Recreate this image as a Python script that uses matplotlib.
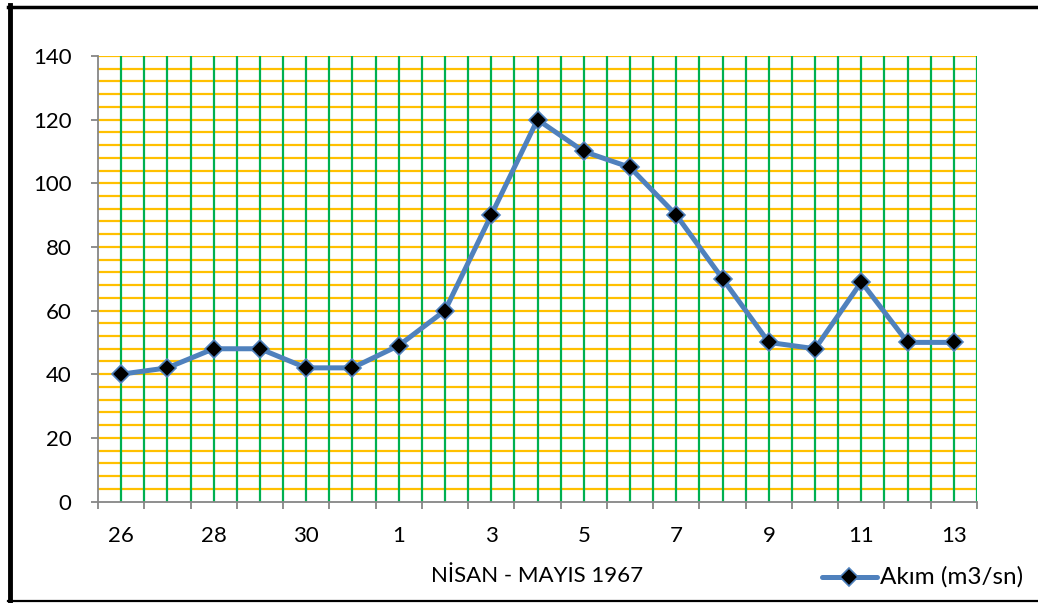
import matplotlib
matplotlib.use("Agg")
import matplotlib.pyplot as plt
from matplotlib.lines import Line2D
import numpy as np

categories = ['26', '27', '28', '29', '30', '31', '1', '2', '3', '4', '5',
              '6', '7', '8', '9', '10', '11', '12', '13']
akim = [40, 42, 48, 48, 42, 42, 49, 60, 90, 120, 110, 105, 90, 70, 50, 48, 69, 50, 50]
xlabel = 'NİSAN - MAYIS 1967'
series_name = 'Akım (m3/sn)'
yticks = [0, 20, 40, 60, 80, 100, 120, 140]

plt.rcParams['font.family'] = ['Lato', 'DejaVu Sans']

W, H = 1038, 603
fig = plt.figure(figsize=(W / 100, H / 100), dpi=100)

def fx(px):
    return px / W

def fy(py):
    return 1 - py / H

left, right, top, bottom = 98, 977, 56, 501.5
ax = fig.add_axes([fx(left), fy(bottom), fx(right - left), (bottom - top) / H])

n = len(categories)
x = np.arange(n)
ax.set_xlim(-0.5, n - 0.5)
ax.set_ylim(0, 140)

# gridlines
for yv in np.arange(4, 141, 4):
    ax.axhline(yv, color='#FFC000', lw=1.6, zorder=1)
for xv in np.arange(-0.5, n - 0.4, 0.5):
    if xv == -0.5:
        continue
    ax.axvline(xv, color='#00B050', lw=1.6, zorder=1.5)

ax.plot(x, akim, color='#4F81BD', lw=3.6, marker='D', markersize=9,
        markerfacecolor='black', markeredgecolor='#4F81BD', markeredgewidth=1.2,
        zorder=3, clip_on=False)

for s in ['top', 'right']:
    ax.spines[s].set_visible(False)
for s in ['left', 'bottom']:
    ax.spines[s].set_color('#868686')
    ax.spines[s].set_linewidth(1.3)
    ax.spines[s].set_zorder(2)

FS = 16
ax.set_yticks(yticks)
ax.set_yticklabels([str(v) for v in yticks], fontsize=FS)
ax.set_xticks(np.arange(-0.5, n, 1.0))
ax.set_xticklabels([])
ax.set_xticks(x[::2], minor=True)
ax.set_xticklabels(categories[::2], minor=True, fontsize=FS)
ax.tick_params(axis='x', which='major', length=5, width=1.3, color='#868686', direction='out')
ax.tick_params(axis='x', which='minor', length=0, pad=18)
ax.tick_params(axis='y', length=5, width=1.3, color='#868686', direction='out', pad=14)

fig.text(fx((left + right) / 2), fy(576), xlabel, fontsize=FS, ha='center', va='center')

# legend
fig.add_artist(Line2D([fx(822), fx(877)], [fy(577), fy(577)], color='#4F81BD', lw=3.6,
                      solid_capstyle='round'))
fig.add_artist(Line2D([fx(849)], [fy(577)], marker='D', markersize=9,
                      markerfacecolor='black', markeredgecolor='#4F81BD',
                      markeredgewidth=1.2, linestyle='none'))
fig.text(fx(880), fy(577), series_name, fontsize=17.5, ha='left', va='center')

# outer border
fig.add_artist(Line2D([fx(9.5), fx(9.5)], [fy(5), fy(601)], color='black', lw=3.5))
fig.add_artist(Line2D([fx(8), fx(W)], [fy(6.5), fy(6.5)], color='black', lw=2.5))
fig.add_artist(Line2D([fx(8), fx(W)], [fy(600.5), fy(600.5)], color='black', lw=1.6))

fig.savefig('out.png', dpi=100)
